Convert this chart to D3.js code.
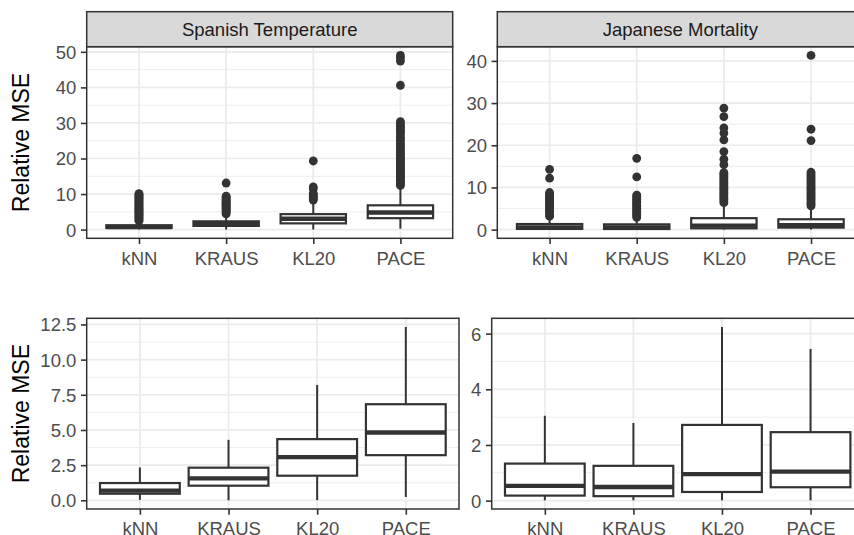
<!DOCTYPE html>
<html>
<head>
<meta charset="utf-8">
<script src="https://cdn.jsdelivr.net/npm/d3@7"></script>
<style>
  html, body { margin: 0; padding: 0; background: #fff; }
  svg { display: block; font-family: "Liberation Sans", Arial, sans-serif; }
</style>
</head>
<body>
<svg id="chart" width="854" height="535"></svg>
<script>
// ---------------- DATA ----------------
const methods = ["kNN", "KRAUS", "KL20", "PACE"];
const datasets = ["Spanish Temperature", "Japanese Mortality"];
const yAxisTitle = "Relative MSE";

// Spanish Temperature box statistics
const stLower  = [0.03, 0.00, 0.02, 0.24];
const stQ1     = [0.47, 1.04, 1.75, 3.21];
const stMedian = [0.69, 1.56, 3.07, 4.82];
const stQ3     = [1.23, 2.32, 4.35, 6.83];
const stUpper  = [2.34, 4.30, 8.20, 12.32];
// Spanish Temperature outliers
const stOutKNN   = [2.45, 2.7, 3.0, 3.35, 3.6, 3.9, 4.25, 4.5, 4.8, 5.1, 5.45, 5.7, 6.0, 6.35, 6.6, 6.95, 7.2, 7.5, 7.85, 8.1, 8.4, 8.75, 9.0, 9.3, 9.6, 9.85, 10.1];
const stOutKRAUS = [4.4, 4.7, 5.0, 5.3, 5.65, 5.9, 6.2, 6.5, 6.85, 7.1, 7.4, 7.7, 8.0, 8.3, 8.6, 8.9, 9.2, 9.4, 13.1];
const stOutKL20  = [8.3, 8.6, 9.0, 9.4, 9.8, 10.2, 11.5, 12.0, 19.3];
const stOutPACE  = [12.4, 12.9, 13.3, 13.8, 14.2, 14.7, 15.1, 15.6, 16.0, 16.5, 16.9, 17.4, 17.8, 18.3, 18.7, 19.2, 19.6, 20.1, 20.5, 21.0, 21.5, 22.0, 22.6, 23.1, 23.7, 24.3, 25.0, 25.6, 26.2, 27.0, 27.6, 28.1, 28.7, 29.2, 29.8, 30.4, 40.6, 47.4, 48.3, 49.0];

// Japanese Mortality box statistics
const jmLower  = [0.01, 0.01, 0.01, 0.01];
const jmQ1     = [0.18, 0.16, 0.31, 0.48];
const jmMedian = [0.53, 0.49, 0.95, 1.04];
const jmQ3     = [1.33, 1.25, 2.72, 2.46];
const jmUpper  = [3.05, 2.79, 6.24, 5.45];
// Japanese Mortality outliers
const jmOutKNN   = [3.2, 3.5, 3.9, 4.2, 4.6, 4.9, 5.3, 5.6, 6.0, 6.3, 6.7, 7.0, 7.4, 7.7, 8.1, 8.4, 8.8, 12.2, 14.3];
const jmOutKRAUS = [2.9, 3.3, 3.6, 4.0, 4.3, 4.7, 5.0, 5.4, 5.8, 6.1, 6.5, 6.8, 7.2, 7.5, 7.9, 8.2, 12.5, 16.9];
const jmOutKL20  = [6.4, 6.8, 7.2, 7.6, 8.0, 8.4, 8.8, 9.2, 9.6, 10.0, 10.4, 10.8, 11.2, 11.6, 12.0, 12.4, 12.8, 13.2, 13.5, 15.4, 16.7, 18.5, 21.3, 22.9, 24.1, 26.8, 28.8];
const jmOutPACE  = [5.6, 6.0, 6.4, 6.8, 7.2, 7.6, 8.0, 8.4, 8.8, 9.2, 9.6, 10.0, 10.4, 10.8, 11.2, 11.6, 12.0, 12.4, 12.8, 13.2, 13.6, 21.1, 23.8, 41.3];

// Tick values / labels per panel
const ticksTopLeft     = [0, 10, 20, 30, 40, 50];
const tickLabelsTopLeft = ["0", "10", "20", "30", "40", "50"];
const ticksTopRight    = [0, 10, 20, 30, 40];
const tickLabelsTopRight = ["0", "10", "20", "30", "40"];
const ticksBotLeft     = [0, 2.5, 5, 7.5, 10, 12.5];
const tickLabelsBotLeft = ["0.0", "2.5", "5.0", "7.5", "10.0", "12.5"];
const ticksBotRight    = [0, 2, 4, 6];
const tickLabelsBotRight = ["0", "2", "4", "6"];

// ---------------- BUILD ----------------
function buildBoxes(lower, q1, med, q3, upper, outs) {
  return methods.map((m, i) => ({ method: m, lower: lower[i], q1: q1[i], median: med[i], q3: q3[i], upper: upper[i], outliers: outs[i] }));
}
const stBoxes = buildBoxes(stLower, stQ1, stMedian, stQ3, stUpper, [stOutKNN, stOutKRAUS, stOutKL20, stOutPACE]);
const jmBoxes = buildBoxes(jmLower, jmQ1, jmMedian, jmQ3, jmUpper, [jmOutKNN, jmOutKRAUS, jmOutKL20, jmOutPACE]);

const svg = d3.select("#chart");
const COL = { border: "#333333", grid: "#EBEBEB", tickText: "#4D4D4D", strip: "#D9D9D9", stripText: "#1A1A1A", box: "#333333" };

const panels = [
  { boxes: stBoxes, strip: datasets[0], x0: 86.7, x1: 452.7, y0: 46.7, y1: 238.3, showOut: true, width: 0.75, ticks: ticksTopLeft, labels: tickLabelsTopLeft, title: true },
  { boxes: jmBoxes, strip: datasets[1], x0: 497.3, x1: 863.3, y0: 46.7, y1: 238.3, showOut: true, width: 0.75, ticks: ticksTopRight, labels: tickLabelsTopRight, title: false },
  { boxes: stBoxes, strip: null, x0: 86.7, x1: 459.0, y0: 318.3, y1: 509.0, showOut: false, width: 0.9, ticks: ticksBotLeft, labels: tickLabelsBotLeft, title: true },
  { boxes: jmBoxes, strip: null, x0: 491.7, x1: 863.7, y0: 318.3, y1: 509.0, showOut: false, width: 0.9, ticks: ticksBotRight, labels: tickLabelsBotRight, title: false }
];

const STRIP_H = 35;
const TICK_LEN = 5.75;

panels.forEach(p => {
  const g = svg.append("g");
  // y domain from data, ggplot-like 5% expansion
  const vals = [];
  p.boxes.forEach(b => {
    vals.push(b.lower, b.upper);
    if (p.showOut) vals.push(...b.outliers);
  });
  const lo = d3.min(vals), hi = d3.max(vals);
  const pad = (hi - lo) * 0.05;
  const y = d3.scaleLinear().domain([lo - pad, hi + pad]).range([p.y1, p.y0]);
  const x = d3.scalePoint().domain(methods).range([p.x0, p.x1]).padding(0.6);
  const bw = x.step() * p.width;

  // background
  g.append("rect").attr("x", p.x0).attr("y", p.y0).attr("width", p.x1 - p.x0).attr("height", p.y1 - p.y0).attr("fill", "#fff");

  // minor grid
  const minor = [];
  for (let i = 0; i < p.ticks.length - 1; i++) minor.push((p.ticks[i] + p.ticks[i + 1]) / 2);
  const step = p.ticks[1] - p.ticks[0];
  minor.push(p.ticks[p.ticks.length - 1] + step / 2);
  minor.push(p.ticks[0] - step / 2);
  const [dlo, dhi] = y.domain();
  g.selectAll(".minor").data(minor.filter(v => v > dlo && v < dhi)).join("line")
    .attr("x1", p.x0).attr("x2", p.x1).attr("y1", d => y(d)).attr("y2", d => y(d))
    .attr("stroke", COL.grid).attr("stroke-width", 0.9);
  // major grid
  g.selectAll(".major").data(p.ticks).join("line")
    .attr("x1", p.x0).attr("x2", p.x1).attr("y1", d => y(d)).attr("y2", d => y(d))
    .attr("stroke", COL.grid).attr("stroke-width", 1.7);
  g.selectAll(".vmajor").data(methods).join("line")
    .attr("x1", d => x(d)).attr("x2", d => x(d)).attr("y1", p.y0).attr("y2", p.y1)
    .attr("stroke", COL.grid).attr("stroke-width", 1.7);

  // boxes
  const bg = g.selectAll(".box").data(p.boxes).join("g");
  bg.append("line").attr("x1", d => x(d.method)).attr("x2", d => x(d.method))
    .attr("y1", d => y(d.q3)).attr("y2", d => y(d.upper))
    .attr("stroke", COL.box).attr("stroke-width", 2);
  bg.append("line").attr("x1", d => x(d.method)).attr("x2", d => x(d.method))
    .attr("y1", d => y(d.q1)).attr("y2", d => y(d.lower))
    .attr("stroke", COL.box).attr("stroke-width", 2);
  bg.append("rect")
    .attr("x", d => x(d.method) - bw / 2).attr("width", bw)
    .attr("y", d => y(d.q3)).attr("height", d => y(d.q1) - y(d.q3))
    .attr("fill", "#fff").attr("stroke", COL.box).attr("stroke-width", 2.2);
  bg.append("line").attr("x1", d => x(d.method) - bw / 2).attr("x2", d => x(d.method) + bw / 2)
    .attr("y1", d => y(d.median)).attr("y2", d => y(d.median))
    .attr("stroke", COL.box).attr("stroke-width", 4.4);
  if (p.showOut) {
    bg.each(function (d) {
      d3.select(this).selectAll("circle").data(d.outliers).join("circle")
        .attr("cx", x(d.method)).attr("cy", v => y(v)).attr("r", 4.4)
        .attr("fill", COL.box);
    });
  }

  // panel border
  g.append("rect").attr("x", p.x0).attr("y", p.y0).attr("width", p.x1 - p.x0).attr("height", p.y1 - p.y0)
    .attr("fill", "none").attr("stroke", COL.border).attr("stroke-width", 1.5);

  // strip
  if (p.strip) {
    g.append("rect").attr("x", p.x0).attr("y", p.y0 - STRIP_H).attr("width", p.x1 - p.x0).attr("height", STRIP_H)
      .attr("fill", COL.strip).attr("stroke", COL.border).attr("stroke-width", 1.5);
    g.append("text").attr("x", (p.x0 + p.x1) / 2).attr("y", p.y0 - STRIP_H / 2 + 6.6)
      .attr("text-anchor", "middle").attr("font-size", 18.5).attr("fill", COL.stripText).text(p.strip);
  }

  // y axis
  const ya = g.append("g").attr("transform", `translate(${p.x0},0)`)
    .call(d3.axisLeft(y).tickValues(p.ticks).tickFormat((d, i) => p.labels[i]).tickSize(TICK_LEN).tickPadding(4.6));
  ya.select(".domain").remove();
  ya.selectAll(".tick line").attr("stroke", COL.border).attr("stroke-width", 1.6);
  ya.selectAll(".tick text").attr("fill", COL.tickText).attr("font-size", 18.5)
    .attr("font-family", '"Liberation Sans", Arial, sans-serif').attr("dy", "0.35em");

  // x axis
  const xa = g.append("g").attr("transform", `translate(0,${p.y1})`)
    .call(d3.axisBottom(x).tickSize(TICK_LEN).tickPadding(4.6));
  xa.select(".domain").remove();
  xa.selectAll(".tick line").attr("stroke", COL.border).attr("stroke-width", 1.6);
  xa.selectAll(".tick text").attr("fill", COL.tickText).attr("font-size", 18.5)
    .attr("font-family", '"Liberation Sans", Arial, sans-serif').attr("dy", "0.87em");

  // y title
  if (p.title) {
    svg.append("text")
      .attr("transform", `translate(29.3,${(p.y0 + p.y1) / 2}) rotate(-90)`)
      .attr("text-anchor", "middle").attr("font-size", 23).attr("fill", "#000").text(yAxisTitle);
  }
});
</script>
</body>
</html>
